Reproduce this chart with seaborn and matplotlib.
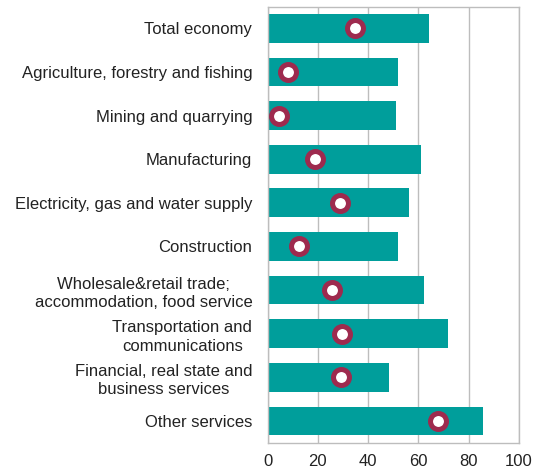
import matplotlib
matplotlib.use("Agg")
import matplotlib.pyplot as plt
import seaborn as sns
import pandas as pd

categories = [
    "Total economy",
    "Agriculture, forestry and fishing",
    "Mining and quarrying",
    "Manufacturing",
    "Electricity, gas and water supply",
    "Construction",
    "Wholesale&retail trade;\naccommodation, food service",
    "Transportation and\ncommunications",
    "Financial, real state and\nbusiness services",
    "Other services",
]
bar_values = [64, 52, 51.2, 61, 56.4, 52, 62.1, 71.9, 48.3, 85.6]
dot_values = [34.7, 8.0, 4.7, 18.9, 29.0, 12.5, 25.6, 29.8, 29.3, 67.9]
x_ticks = [0, 20, 40, 60, 80, 100]

df = pd.DataFrame({"sector": categories, "bar": bar_values, "dot": dot_values})

sns.set_style("white")
plt.rcParams["font.family"] = ["Liberation Sans", "DejaVu Sans"]

fig = plt.figure(figsize=(5.34, 4.75), dpi=100)
ax = fig.add_axes([0.501, 0.068, 0.471, 0.918])

teal = "#009E9B"
wine = "#9E2A4E"
grid = "#BDBDBD"

sns.barplot(data=df, x="bar", y="sector", orient="h", color=teal,
            width=0.66, saturation=1, ax=ax)
for p in ax.patches:
    p.set_zorder(2)
    p.set_edgecolor("none")
sns.scatterplot(data=df, x="dot", y="sector", marker="o", s=132,
                color="white", edgecolor=wine, linewidth=3.6, ax=ax,
                zorder=3, legend=False)

ax.set_xlim(0, 100)
ax.set_ylim(9.5, -0.5)
ax.set_xticks(x_ticks)
ax.set_xticklabels([str(t) for t in x_ticks])
ax.set_xlabel("")
ax.set_ylabel("")
ax.set_axisbelow(True)
ax.grid(False)
ax.xaxis.grid(True, color=grid, lw=1.0)
for s in ax.spines.values():
    s.set_color(grid)
    s.set_linewidth(1.0)
ax.tick_params(axis="x", length=0, pad=8, labelsize=12, labelcolor="#222222")
ax.tick_params(axis="y", length=0, pad=11, labelsize=12, labelcolor="#222222")
for lab in ax.get_yticklabels():
    lab.set_multialignment("center")
    lab.set_linespacing(1.3)

fig.savefig("out.png", dpi=100)
